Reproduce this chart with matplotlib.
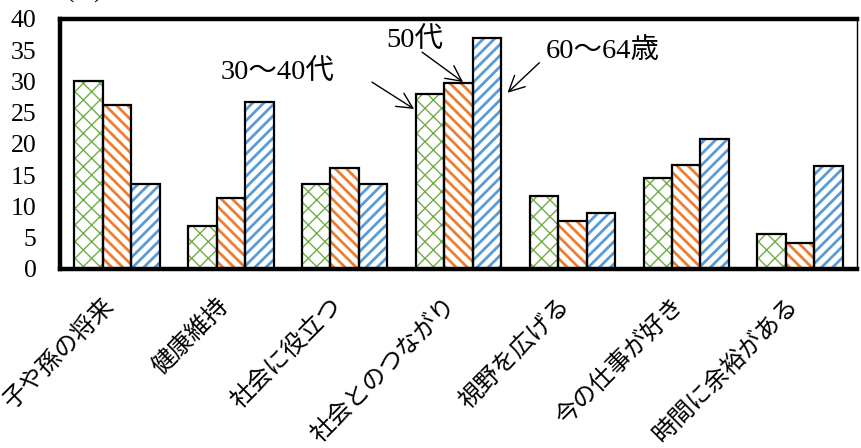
"""Reasons for working, by age group (bar chart with hatched bars)."""
import matplotlib
matplotlib.use("Agg")
import matplotlib.pyplot as plt
import matplotlib.transforms as mtransforms
import numpy as np

FONT = ["Liberation Serif", "Noto Sans CJK JP"]
plt.rcParams["font.family"] = FONT
plt.rcParams["hatch.linewidth"] = 1.6

categories = ["子や孫の将来", "健康維持", "社会に役立つ", "社会とのつながり",
              "視野を広げる", "今の仕事が好き", "時間に余裕がある"]
age_30_40 = [30.0, 6.8, 13.6, 28.0, 11.6, 14.6, 5.6]
age_50 = [26.2, 11.4, 16.1, 29.7, 7.7, 16.7, 4.2]
age_60_64 = [13.6, 26.7, 13.6, 37.0, 9.0, 20.8, 16.4]
series_names = ["30～40代", "50代", "60～64歳"]
yticks = [0, 5, 10, 15, 20, 25, 30, 35, 40]

fig = plt.figure(figsize=(8.61, 4.48), dpi=100)
ax = fig.add_axes([0.0697, 0.3996, 0.9257, 0.558])

x = np.arange(len(categories))
width = 0.25
styles = [
    (age_30_40, "#70AD47", "xx", 1.0),
    (age_50, "#ED7D31", "\\\\\\", 2.0),
    (age_60_64, "#5B9BD5", "///", 2.0),
]
for i, (vals, col, hatch, hlw) in enumerate(styles):
    xs = x + (i - 1) * width
    bars = ax.bar(xs, vals, width, color="white", edgecolor=col,
                  hatch=hatch, linewidth=0, zorder=2)
    for b in bars:
        if hasattr(b, "set_hatch_linewidth"):
            b.set_hatch_linewidth(hlw)
    ax.bar(xs, vals, width, color="none", edgecolor="black",
           linewidth=1.6, zorder=3)

ax.set_xlim(-0.5, len(categories) - 0.5)
ax.set_ylim(0, 40)
ax.set_yticks(yticks)
ax.tick_params(axis="y", length=0, pad=17, labelsize=18.5)

ax.set_xticks(x)
ax.set_xticklabels(categories, rotation=45, rotation_mode="anchor",
                   ha="right", va="center", fontsize=17.5)
ax.tick_params(axis="x", length=0, pad=24)
shift = mtransforms.ScaledTranslation(-6 / 100, 0, fig.dpi_scale_trans)
for lab in ax.get_xticklabels():
    lab.set_transform(lab.get_transform() + shift)

for side in ["left", "top", "bottom"]:
    ax.spines[side].set_linewidth(3.2)
ax.spines["right"].set_linewidth(1.0)

# series call-outs
arrow = dict(arrowstyle="->", color="black", lw=1.0, mutation_scale=28,
             shrinkA=0, shrinkB=0)
ax.text(1.41, 31.5, series_names[0], ha="center", va="center", fontsize=20.5)
ax.annotate("", xy=(2.61, 25.6), xytext=(2.24, 29.9), arrowprops=arrow)
ax.text(2.62, 36.6, series_names[1], ha="center", va="center", fontsize=20.5)
ax.annotate("", xy=(3.04, 29.9), xytext=(2.68, 34.7), arrowprops=arrow)
ax.text(4.27, 34.9, series_names[2], ha="center", va="center", fontsize=20.5)
ax.annotate("", xy=(3.43, 28.2), xytext=(3.71, 33.0), arrowprops=arrow)

fig.text(85 / 861, 1 - 3 / 448, "(%)", ha="center", va="bottom", fontsize=18)

fig.savefig("out.png", dpi=100)
